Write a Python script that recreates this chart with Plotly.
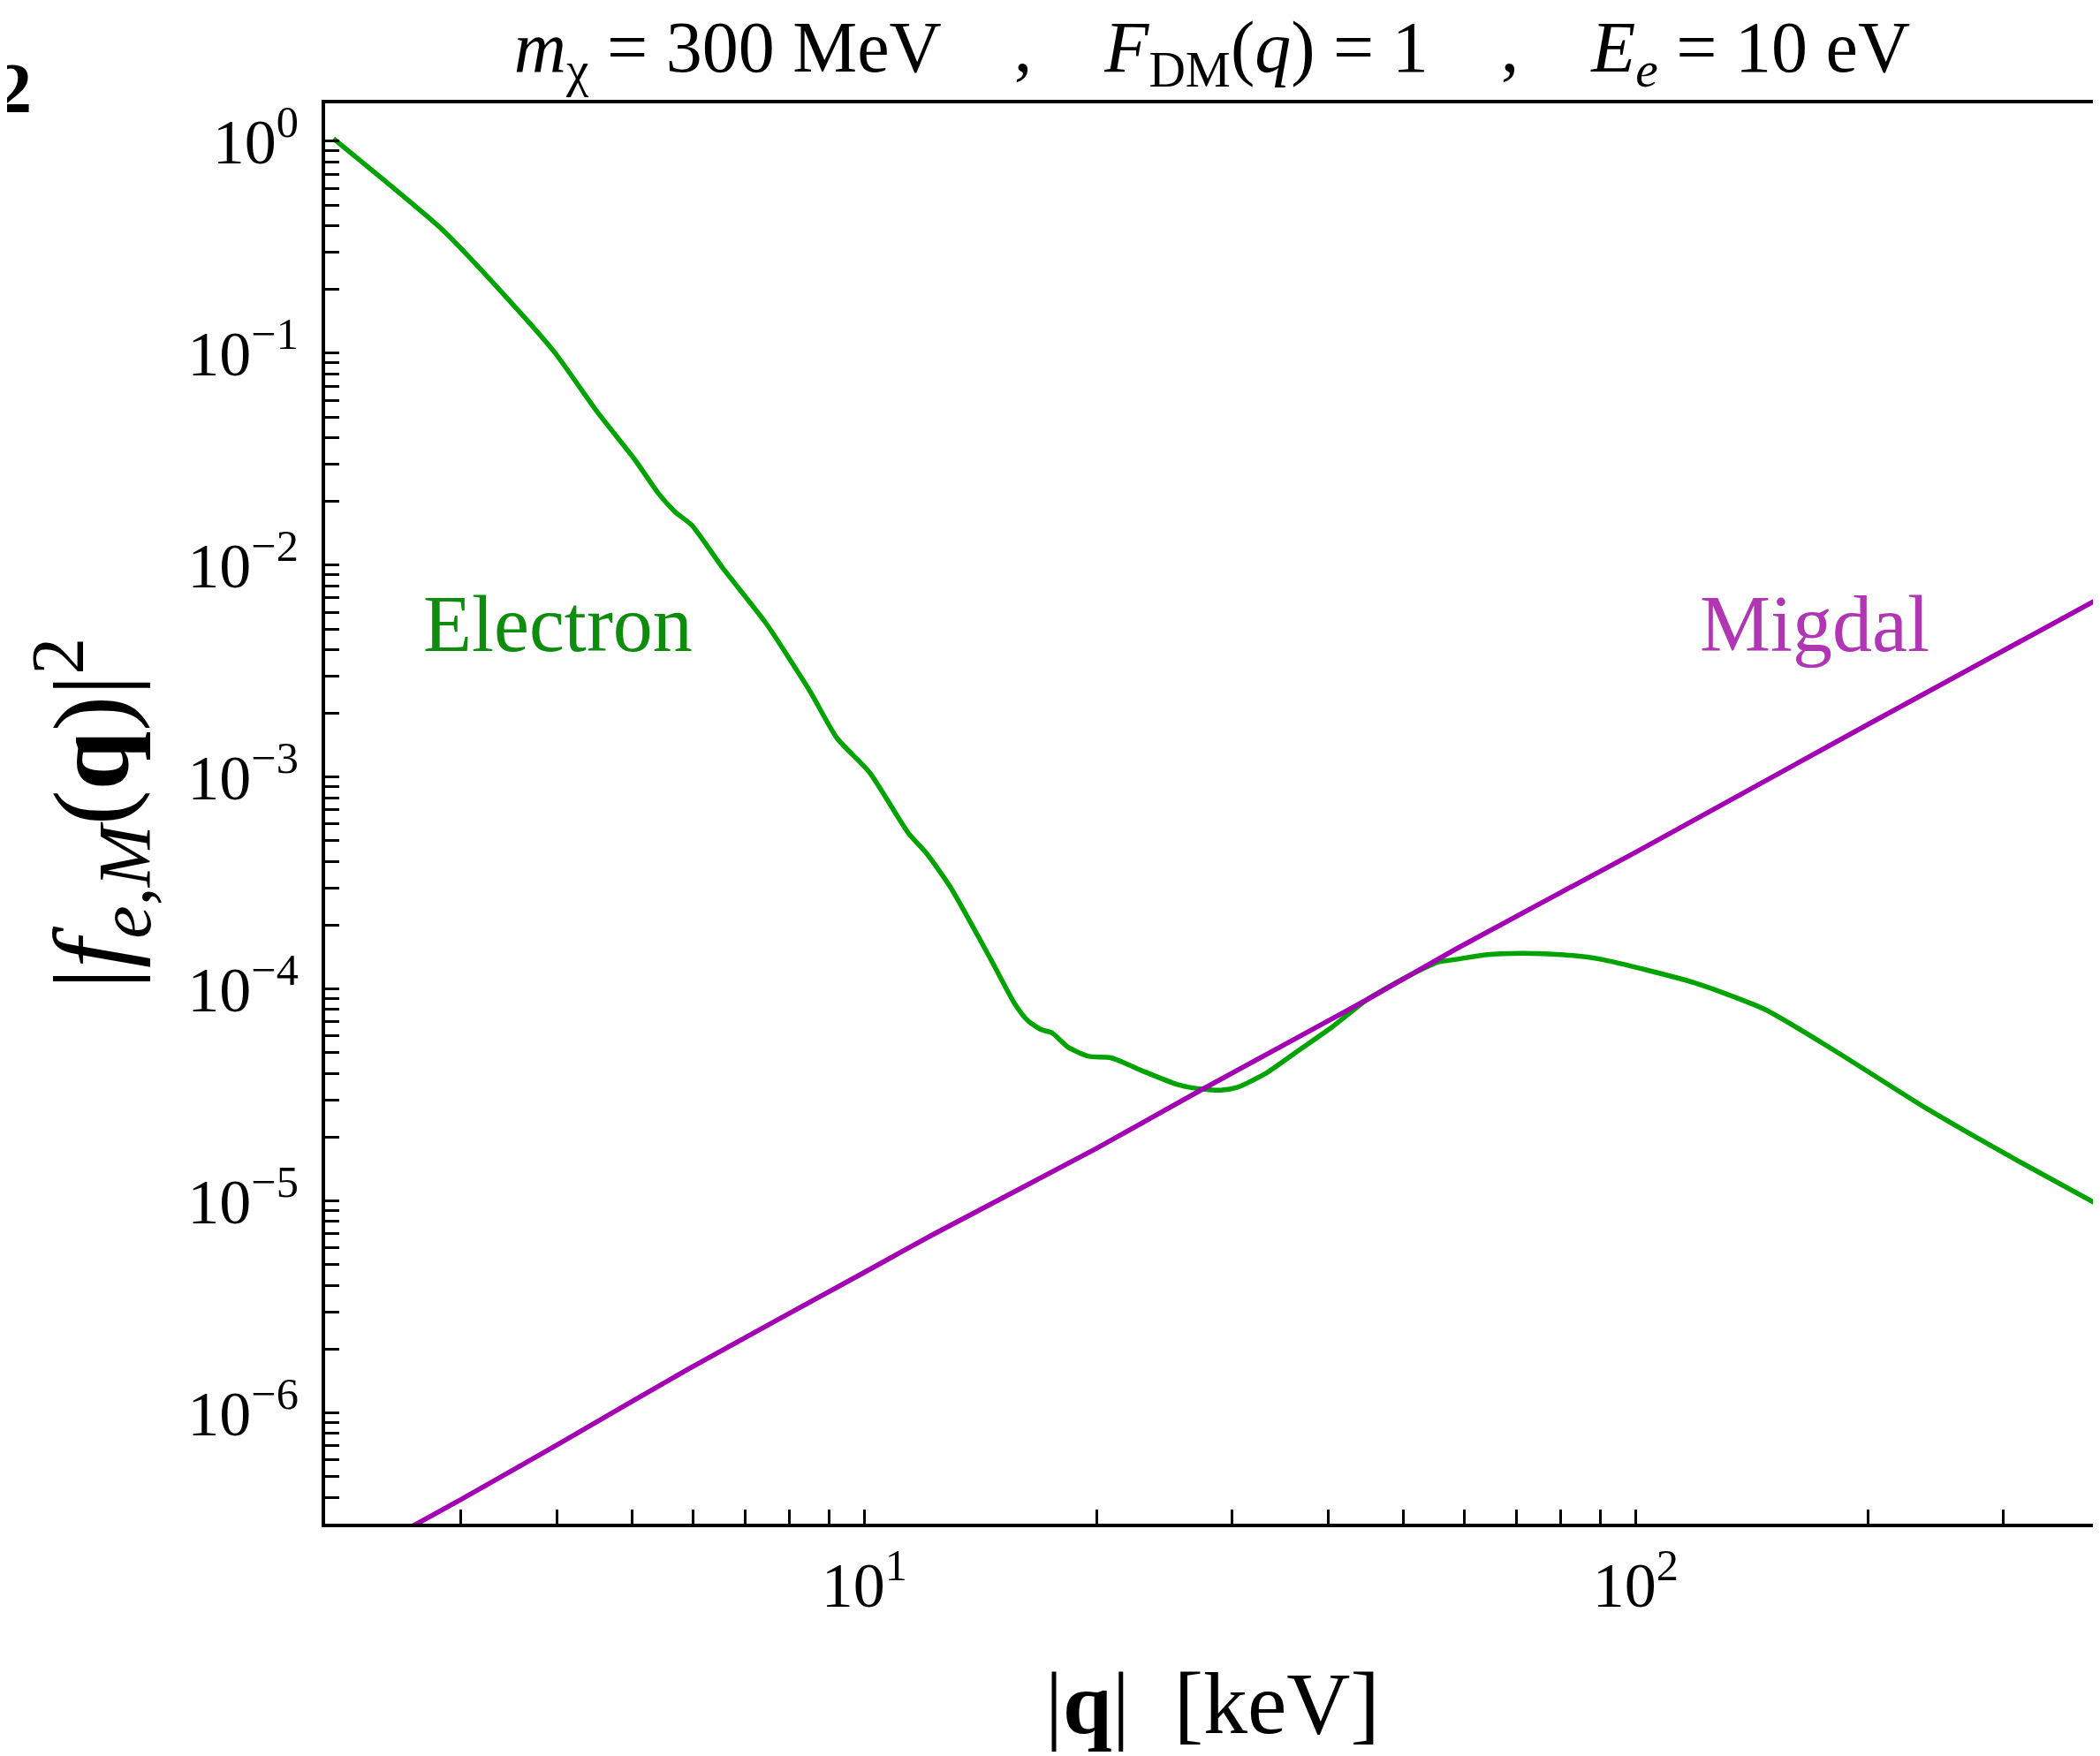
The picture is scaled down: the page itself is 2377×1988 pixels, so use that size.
import math
import plotly.graph_objects as go

# ---------------- data ----------------
electron_q = [2.05, 2.39, 2.84, 3.50, 3.96, 4.51, 5.04, 5.41, 5.69, 5.98, 6.55, 7.46,
              8.50, 9.22, 10.15, 11.40, 12.04, 12.93, 14.59, 15.66, 16.31, 16.98, 17.50,
              18.40, 19.55, 20.88, 22.98, 25.42, 27.02, 29.0, 30.49, 33.04, 36.56, 40.45,
              44.74, 50.5, 55.5, 58.6, 63.8, 71.3, 80.8, 90.3, 119.2, 146.9, 181.0,
              239.1, 315.8, 398.0]
electron_f = [1.03, 0.651, 0.382, 0.1705, 0.1019, 0.0527, 0.0315, 0.0218, 0.0178, 0.0154,
              0.00973, 0.00531, 0.002548, 0.001525, 0.001056, 5.46e-4, 4.37e-4, 3.03e-4,
              1.38e-4, 8.56e-5, 7.07e-5, 6.42e-5, 6.22e-5, 5.30e-5, 4.81e-5, 4.74e-5,
              4.10e-5, 3.55e-5, 3.39e-5, 3.33e-5, 3.44e-5, 3.97e-5, 5.13e-5, 6.63e-5,
              8.85e-5, 1.14e-4, 1.34e-4, 1.38e-4, 1.45e-4, 1.475e-4, 1.45e-4, 1.38e-4,
              1.07e-4, 8.03e-5, 5.13e-5, 2.71e-5, 1.52e-5, 9.58e-6]

migdal_q = [2.6, 3.0, 4.0, 5.93, 10.0, 12.3, 20.0, 27.3, 45.0, 58.6, 100.0, 200.0, 400.0]
migdal_f = [2.93e-7, 3.9e-7, 7.07e-7, 1.62e-6, 4.6e-6, 6.97e-6, 1.77e-5, 3.33e-5,
            8.97e-5, 1.55e-4, 4.42e-4, 1.77e-3, 7.0e-3]

x_tick_vals = [10, 100]
x_tick_text = ["10<sup>1</sup>", "10<sup>2</sup>"]
y_tick_vals = [1e0, 1e-1, 1e-2, 1e-3, 1e-4, 1e-5, 1e-6]
y_tick_text = ["10<sup>0</sup>", "10<sup>−1</sup>", "10<sup>−2</sup>", "10<sup>−3</sup>",
               "10<sup>−4</sup>", "10<sup>−5</sup>", "10<sup>−6</sup>"]

x_minor = [m * 10 ** e for e in (0, 1, 2) for m in range(2, 10) if 2 <= m * 10 ** e <= 400]
y_minor = [m * 10 ** e for e in range(-7, 1) for m in range(2, 10)]

# ---------------- layout geometry ----------------
# the page body has an 8px default margin; compensate so the plot area sits at
# page pixels x 368..2377, y 117..1725
OFF = 8
W, H = 2377, 1988
L, R, T, B = 368 - OFF, OFF, 117 - OFF, 263 + OFF
PW, PH = W - L - R, H - T - B
FONT = "Liberation Serif"
GREEN = "#00A300"
MAGENTA = "#A300B3"


def px(xpage):
    return (xpage - OFF - L) / PW


def py(ypage):
    return 1 - (ypage - OFF - T) / PH


fig = go.Figure()
fig.add_trace(go.Scatter(x=electron_q, y=electron_f, mode="lines",
                         line=dict(color=GREEN, width=5.5, shape="spline", smoothing=0.6),
                         name="Electron", showlegend=False))
fig.add_trace(go.Scatter(x=migdal_q, y=migdal_f, mode="lines",
                         line=dict(color=MAGENTA, width=5.5, shape="spline", smoothing=0.6),
                         name="Migdal", showlegend=False))

tickstyle = dict(ticks="inside", ticklen=16, tickwidth=3, tickcolor="black")

fig.update_xaxes(type="log", range=[math.log10(2), math.log10(400)],
                 tickmode="array", tickvals=x_tick_vals, ticktext=x_tick_text,
                 showline=True, linewidth=3.5, linecolor="black", mirror=True,
                 showgrid=False, zeroline=False, ticklabelstandoff=4, automargin=False,
                 tickfont=dict(family=FONT, size=72, color="black"),
                 minor=dict(tickmode="array", tickvals=x_minor, showgrid=False, **tickstyle),
                 **tickstyle)
fig.update_yaxes(type="log", range=[math.log10(3.0e-7), math.log10(1.51)],
                 tickmode="array", tickvals=y_tick_vals, ticktext=y_tick_text,
                 showline=True, linewidth=3.5, linecolor="black", mirror=False,
                 showgrid=False, zeroline=False, ticklabelstandoff=12, automargin=False,
                 tickfont=dict(family=FONT, size=72, color="black"),
                 minor=dict(tickmode="array", tickvals=y_minor, showgrid=False, **tickstyle),
                 **tickstyle)

nb = "\u00a0"
title_text = ("<i>m</i><sub>χ</sub> = 300 MeV" + nb * 4 + "," + nb * 4 +
              "<i>F</i><sub>DM</sub>(<i>q</i>) = 1" + nb * 4 + "," + nb * 4 +
              "<i>E<sub>e</sub></i> = 10 eV")

annotations = [
    dict(text="Electron", x=px(631), y=py(706), xref="paper", yref="paper",
         showarrow=False, font=dict(family=FONT, size=90, color="#0E8C0E"),
         xanchor="center", yanchor="middle"),
    dict(text="Migdal", x=px(2054), y=py(706), xref="paper", yref="paper",
         showarrow=False, font=dict(family=FONT, size=90, color="#B036B4"),
         xanchor="center", yanchor="middle"),
    dict(text="|<i>f</i><sub><i>e</i>,<i>M</i></sub>(<b>q</b>)|<sup>2</sup>",
         x=px(103), y=py(921), xref="paper", yref="paper", textangle=-90,
         showarrow=False, font=dict(family=FONT, size=120, color="black"),
         xanchor="center", yanchor="middle"),
    dict(text="|<b>q</b>|" + nb * 2 + "[keV]", x=px(1372), y=py(1928),
         xref="paper", yref="paper", showarrow=False,
         font=dict(family=FONT, size=100, color="black"),
         xanchor="center", yanchor="middle"),
    dict(text="<b>2</b>", x=px(38), y=py(100), xref="paper", yref="paper",
         showarrow=False, font=dict(family=FONT, size=80, color="black"),
         xanchor="right", yanchor="middle"),
]

fig.update_layout(
    width=W, height=H,
    margin=dict(l=L, r=R, t=T, b=B, pad=0, autoexpand=False),
    paper_bgcolor="white", plot_bgcolor="white",
    showlegend=False,
    title=dict(text=title_text, x=(1372 - OFF) / W, xref="container", xanchor="center",
               y=1 - (52 - OFF) / H, yref="container", yanchor="middle",
               font=dict(family=FONT, size=82, color="black")),
    annotations=annotations,
    shapes=[dict(type="line", xref="paper", yref="paper", x0=1, x1=1, y0=0, y1=1,
                 line=dict(color="#BBBBBB", width=2))],
)

fig.write_html("out.html")
